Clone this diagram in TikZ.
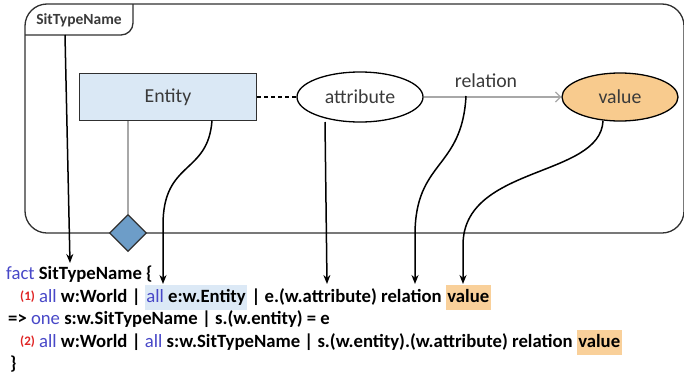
\documentclass[tikz,border=0pt]{standalone}
\usepackage{fontspec}
\setmainfont{Carlito}
\usetikzlibrary{shapes.geometric,arrows.meta}
\definecolor{entfill}{HTML}{DAE8F5}
\definecolor{valfill}{HTML}{F8CB8E}
\definecolor{diafill}{HTML}{6D9DC8}
\definecolor{kwc}{HTML}{4848C8}
\definecolor{numc}{HTML}{E02424}
\definecolor{hlblue}{HTML}{DCE9F6}
\definecolor{hlorange}{HTML}{F9D09A}
\definecolor{linegray}{HTML}{A8A8A8}
\definecolor{framec}{HTML}{303030}
\definecolor{txtc}{HTML}{3A3A3A}
\newcommand\kw[1]{{\mdseries\color{kwc}#1}}
\newcommand\nr[1]{\raisebox{2pt}{\fontsize{13}{15}\selectfont\color{numc}#1}}
\newcommand\hlb[1]{{\setlength\fboxsep{1.5pt}\colorbox{hlblue}{\strut #1}}}
\newcommand\hlo[1]{{\setlength\fboxsep{1.5pt}\colorbox{hlorange}{\strut #1}}}
\tikzset{
  frame/.style={draw=framec, line width=1.3pt},
  nodefont/.style={font=\fontsize{19.8}{22}\selectfont, text=txtc},
  entbox/.style={draw=framec, fill=entfill, line width=1.2pt, minimum width=177pt, minimum height=47pt, nodefont},
  oval/.style={ellipse, draw=black, line width=1.3pt, nodefont, inner sep=0pt},
  rhomb/.style={diamond, draw=framec, fill=diafill, line width=1.2pt, minimum width=37pt, minimum height=37pt, inner sep=0pt},
  grayline/.style={draw=linegray, line width=1.3pt},
  pointer/.style={draw=black, line width=1.5pt, -{Stealth[length=9pt,width=7pt]}},
  code/.style={anchor=base west, inner sep=0pt, font=\bfseries\fontsize{18.7}{22}\selectfont, text=black}
}
\begin{document}
\begin{tikzpicture}[x=1pt,y=-1pt]
\useasboundingbox (0,0) rectangle (684,375);
\fill[white] (0,0) rectangle (684,375);

% situation frame with its name tab
\draw[frame, rounded corners=22] (300,233) -- (25,233) -- (25,4) -- (684,4) -- (684,233) -- cycle;
\draw[frame, rounded corners=12] (25,35) -- (133,35) -- (133,4);
\node[font=\bfseries\fontsize{15.5}{18}\selectfont, text=txtc] (tab) at (79,20.5) {SitTypeName};

% model elements
\node[entbox] (entity) at (168,97) {Entity};
\node[oval, minimum width=126pt, minimum height=50pt] (attr) at (360,97) {attribute};
\node[oval, fill=valfill, minimum width=116pt, minimum height=48pt] (val) at (620,97) {value};
\node[rhomb] (dia) at (128,233) {};
\node[nodefont, inner sep=1pt] (rel) at (486,81) {relation};

\draw[draw=black, line width=1.3pt, dash pattern=on 4pt off 3pt] (entity.east) -- (attr.west);
\draw[grayline, -{Straight Barb[length=5pt,width=10pt]}] (attr.east) -- (val.west);
\draw[grayline] (dia.north |- entity.south) -- (dia.north);

% constraint text
\node[code] (l1) at (6,279) {\kw{fact} SitTypeName \{};
\node[code] (l2) at (20,302) {\nr{(1)} \kw{all} w:World | \hlb{\kw{all} e:w.Entity} | e.(w.attribute) relation \hlo{value}};
\node[code] (l3) at (8,324) {=> \kw{one} s:w.SitTypeName | s.(w.entity) = e};
\node[code] (l4) at (20,347) {\nr{(2)} \kw{all} w:World | \kw{all} s:w.SitTypeName | s.(w.entity).(w.attribute) relation \hlo{value}};
\node[code] (l5) at (10,369) {\}};

% pointer ends
\coordinate (t1) at (70,263);
\coordinate (t2) at (163,284);
\coordinate (t3) at (327,284);
\coordinate (t4) at (415,284);
\coordinate (t5) at (463,284);
\coordinate (s1) at (65,35);
\coordinate (s2) at (212,120.5);
\coordinate (s3) at (325,122);
\coordinate (s4) at (466,96);
\coordinate (s5) at (603,121);

\draw[pointer] (s1) -- (t1);
\draw[pointer] (s2) .. controls (208,175) and (163,160) .. (163,225) -- (t2);
\draw[pointer] (s3) -- (t3);
\draw[pointer] (s4) .. controls (462,170) and (415,160) .. (415,235) -- (t4);
\draw[pointer] (s5) .. controls (600,178) and (463,165) .. (463,245) -- (t5);
\end{tikzpicture}
\end{document}
